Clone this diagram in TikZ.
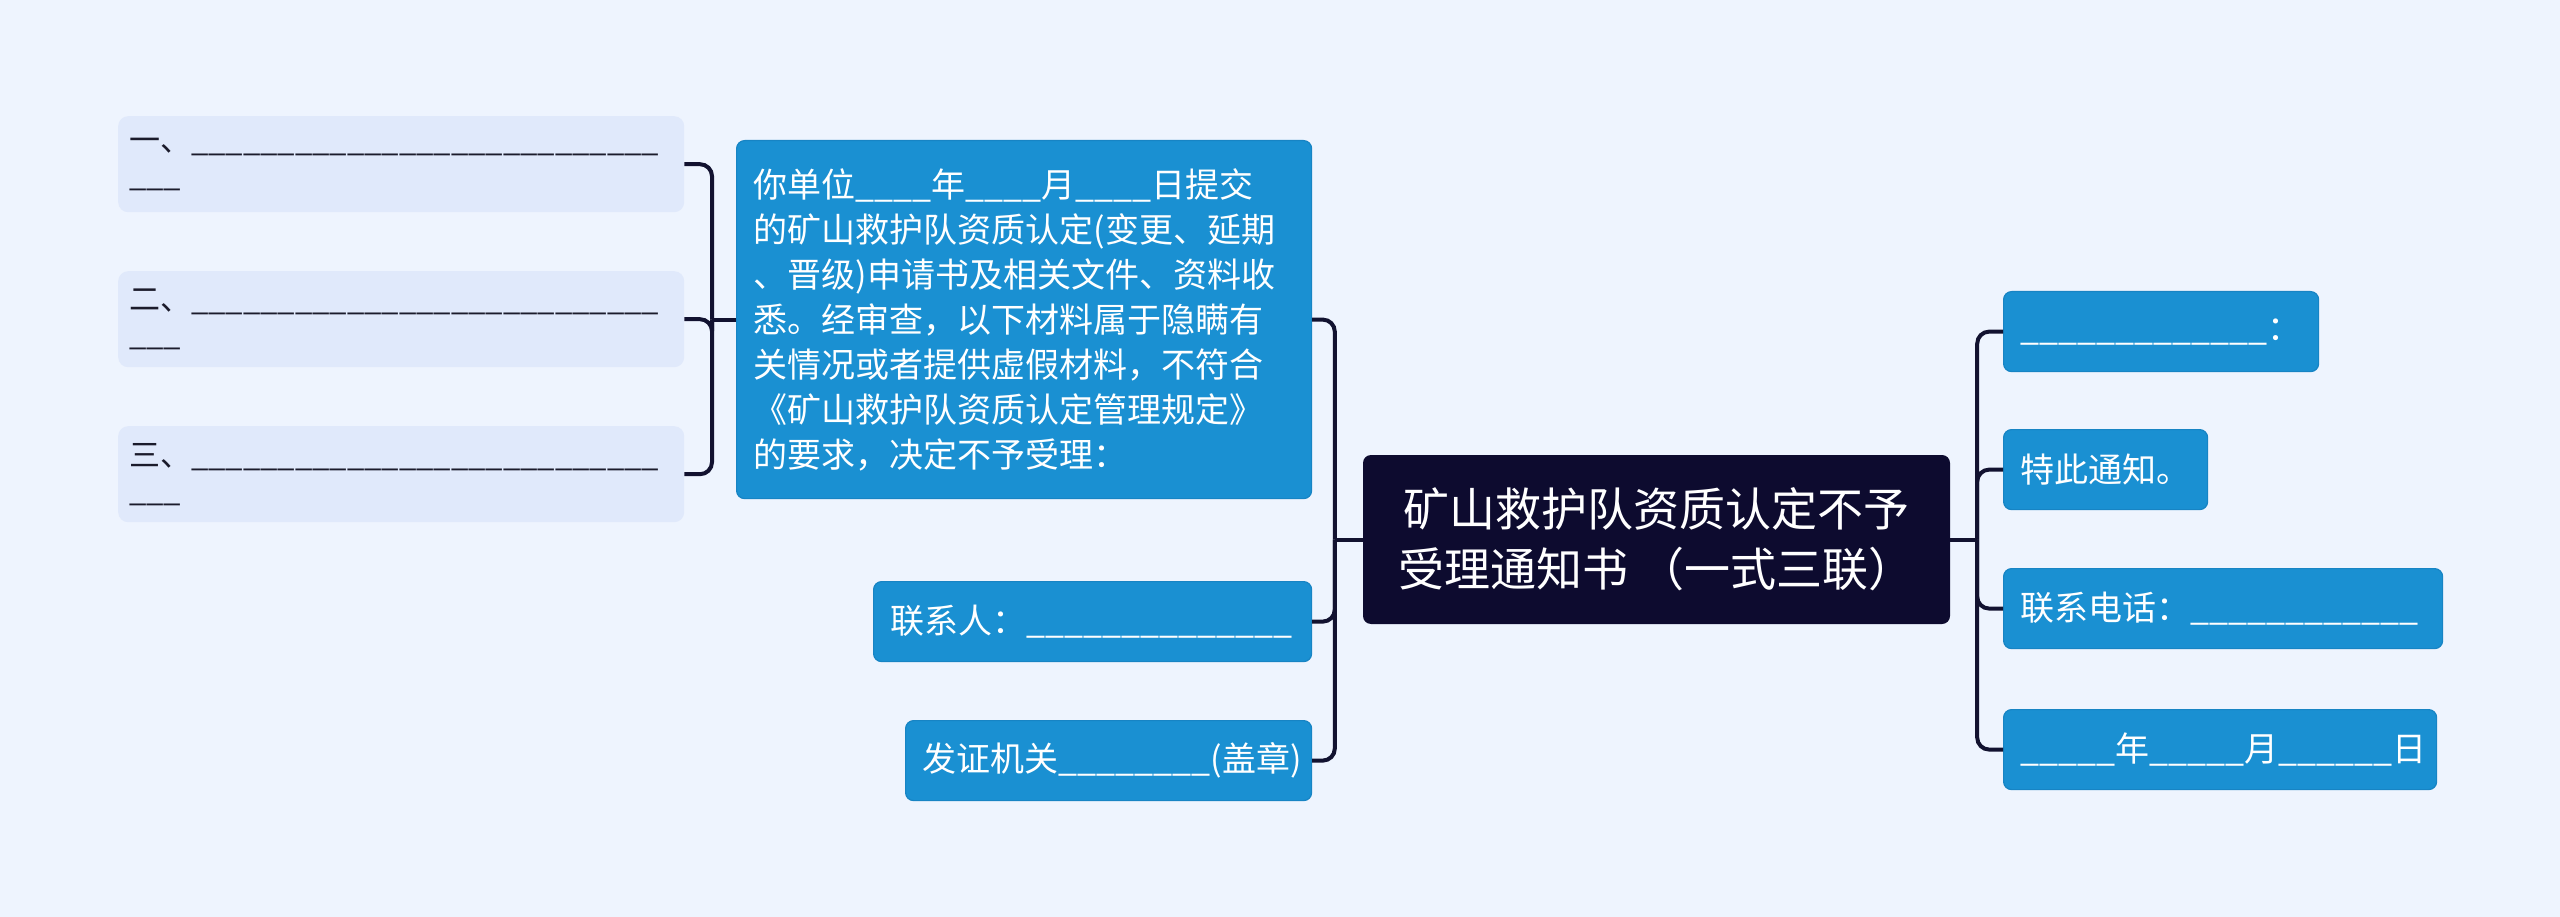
\documentclass[tikz,border=0pt]{standalone}
\usepackage{fontspec}
\setmainfont{Noto Sans CJK SC}
\usepackage{tikz}
\usetikzlibrary{positioning}
\definecolor{Backdrop}{HTML}{EEF4FE}
\definecolor{SoftLeaf}{HTML}{E0E9FB}
\definecolor{LeafBlue}{HTML}{1A90D2}
\definecolor{LeafEdge}{HTML}{1784C4}
\definecolor{RootNavy}{HTML}{0D0B2F}
\definecolor{LinkNavy}{HTML}{121230}
\definecolor{InkDark}{HTML}{1B1B2B}
% a run of n underscores
\newcount\blankcnt
\newcommand\fillblank[1]{\blankcnt=#1\relax\loop\ifnum\blankcnt>0 \textunderscore\advance\blankcnt-1 \repeat}
\tikzset{
  % Centre topic
  root/.style={rectangle,rounded corners=8pt,fill=RootNavy,text=white,
               align=center,inner sep=0pt,
               font=\fontsize{46}{60}\selectfont},
  % Blue topic box
  leaf/.style={rectangle,rounded corners=8pt,fill=LeafBlue,draw=LeafEdge,
               line width=1.2pt,text=white,align=left,
               inner xsep=17pt,inner ysep=0pt,minimum height=80pt,
               font=\fontsize{34}{45}\selectfont},
  % Pale sub-topic box
  sub/.style={rectangle,rounded corners=10pt,fill=SoftLeaf,text=InkDark,
              align=left,inner xsep=11pt,inner ysep=0pt,minimum height=96pt,
              text width=544pt,font=\fontsize{31}{35}\selectfont},
  % Connector
  link/.style={draw=LinkNavy,line width=4pt,rounded corners=12pt}
}
\begin{document}
\begin{tikzpicture}[x=1pt,y=-1pt]
  \fill[Backdrop] (0,0) rectangle (2560,917);
  % centre
  \node[root,minimum width=587pt,minimum height=169pt] (root) at (1656.5,539.5)
    {矿山救护队资质认定不予\\受理通知书 （一式三联）};
  % left branch
  \node[leaf,anchor=north west,text width=541pt,minimum height=358pt] (task) at (736,140)
    {你单位\fillblank{4}年\fillblank{4}月\fillblank{4}日提交\\
     的矿山救护队资质认定(变更、延期\\
     、晋级)申请书及相关文件、资料收\\
     悉。经审查，以下材料属于隐瞒有\\
     关情况或者提供虚假材料，不符合\\
     《矿山救护队资质认定管理规定》\\
     的要求，决定不予受理：};
  \node[leaf,anchor=north west,text width=404pt] (contact) at (873,581)
    {联系人：\fillblank{14}};
  \node[leaf,anchor=north west,text width=372pt] (issuer) at (905,720)
    {发证机关\fillblank{8}(盖章)};
  \node[sub,anchor=north west] (item1) at (118,116) {一、\fillblank{27}\\\fillblank{3}};
  \node[sub,anchor=north west] (item2) at (118,271) {二、\fillblank{27}\\\fillblank{3}};
  \node[sub,anchor=north west] (item3) at (118,426) {三、\fillblank{27}\\\fillblank{3}};
  % right branch
  \node[leaf,anchor=north west,text width=281pt] (addressee) at (2003,291)
    {\fillblank{13}：};
  \node[leaf,anchor=north west,text width=170pt] (hereby) at (2003,429)
    {特此通知。};
  \node[leaf,anchor=north west,text width=405pt] (phone) at (2003,568)
    {联系电话：\fillblank{12}};
  \node[leaf,anchor=north west,text width=399pt] (date) at (2003,709)
    {\fillblank{5}年\fillblank{5}月\fillblank{6}日};
  % connectors
  \draw[link] (root.west) -- ++(-28,0) coordinate (lhub);
  \draw[link] (lhub) |- (task.east);
  \draw[link] (lhub) |- (contact.east);
  \draw[link] (lhub) |- (issuer.east);
  \draw[link] (task.west) -- ++(-24,0) coordinate (thub);
  \draw[link] (thub) |- (item1.east);
  \draw[link] (thub) |- (item2.east);
  \draw[link] (thub) |- (item3.east);
  \draw[link] (root.east) -- ++(27,0) coordinate (rhub);
  \draw[link] (rhub) |- (addressee.west);
  \draw[link] (rhub) |- (hereby.west);
  \draw[link] (rhub) |- (phone.west);
  \draw[link] (rhub) |- (date.west);
\end{tikzpicture}
\end{document}
